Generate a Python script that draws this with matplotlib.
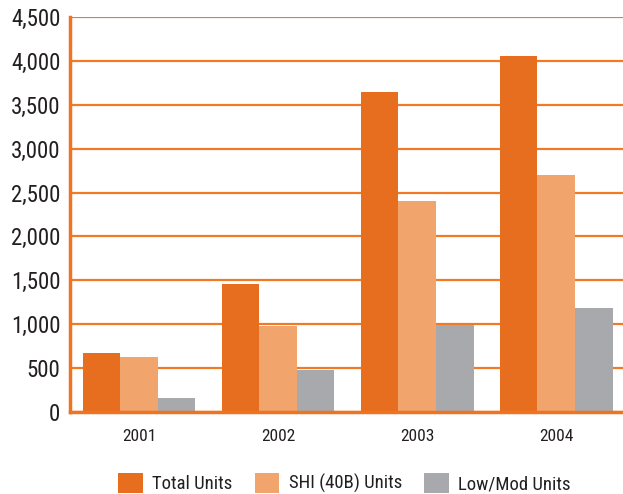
import matplotlib
matplotlib.use("Agg")
import matplotlib.pyplot as plt
import numpy as np
from matplotlib.patches import Patch

plt.rcParams['font.family'] = ['Roboto Condensed', 'DejaVu Sans']

years = ["2001", "2002", "2003", "2004"]
total_units = [670, 1455, 3640, 4060]
shi_units = [625, 985, 2400, 2705]
lowmod_units = [160, 475, 990, 1180]
series_names = ["Total Units", "SHI (40B) Units", "Low/Mod Units"]
colors = ["#E86E1F", "#F1A46C", "#A8A9AD"]
y_ticks = [0, 500, 1000, 1500, 2000, 2500, 3000, 3500, 4000, 4500]

fig = plt.figure(figsize=(6.23, 4.94), dpi=100)
ax = fig.add_axes([0.1124, 0.166, 0.8876, 0.7996])

x = np.arange(len(years))
w = 0.27
for i, (vals, c) in enumerate(zip([total_units, shi_units, lowmod_units], colors)):
    ax.bar(x + (i - 1) * w, vals, width=w, color=c, zorder=3, linewidth=0)

ax.set_xlim(-0.497, 3.48)
ax.set_ylim(0, 4500)
ax.set_yticks(y_ticks)
ax.set_yticklabels([f"{v:,}" for v in y_ticks], fontsize=16.5, color="#231f20")
ax.set_xticks(x)
ax.set_xticklabels(years, fontsize=12.5, color="#231f20")
ax.tick_params(axis="both", length=0)
ax.tick_params(axis="y", pad=7)
ax.tick_params(axis="x", pad=12)

ax.yaxis.grid(True, color="#F07A25", linewidth=1.6, zorder=1)
for s in ["top", "right"]:
    ax.spines[s].set_visible(False)
ax.spines["left"].set_color("#EE7423")
ax.spines["left"].set_linewidth(2.5)
ax.spines["bottom"].set_color("#EE7423")
ax.spines["bottom"].set_linewidth(2.5)
ax.spines["bottom"].set_zorder(4)

handles = [Patch(facecolor=c, edgecolor="none") for c in colors]
fig.legend(handles, series_names, loc="lower center", bbox_to_anchor=(0.553, -0.033),
           ncol=3, frameon=False, fontsize=13.5, handlelength=1.3, handleheight=1.3,
           handletextpad=0.5, columnspacing=1.2, labelcolor="#231f20")

fig.savefig("out.png", dpi=100)
